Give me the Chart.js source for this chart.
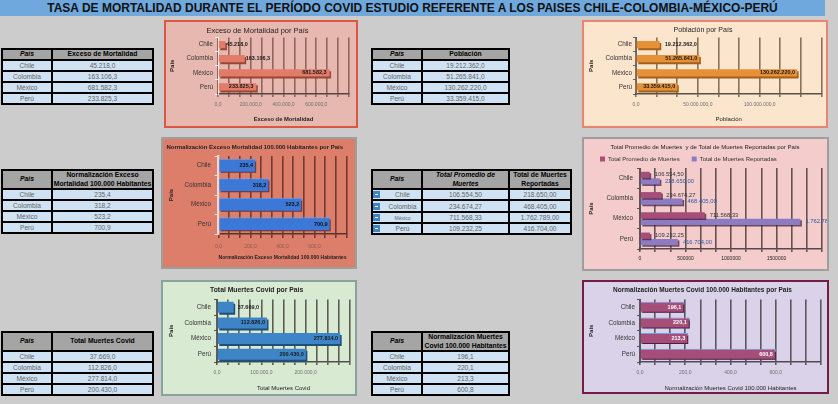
<!DOCTYPE html>
<html lang="es">
<head>
<meta charset="utf-8">
<title>Tasa de mortalidad periodo COVID</title>
<script src="https://cdn.jsdelivr.net/npm/chart.js@4.4.1/dist/chart.umd.min.js"></script>
<style>
  html, body { margin:0; padding:0; }
  body { width:838px; height:404px; background:#cccccc; position:relative; overflow:hidden; font-family:'Liberation Sans', Arial, sans-serif; }
  #banner { position:absolute; left:0; top:0; width:825px; height:16px; background:#6fa8dc; color:#111; font-size:12px; font-weight:bold; line-height:17px; text-align:center; white-space:nowrap; }
  .box { position:absolute; box-sizing:border-box; border:2px solid #999; }
  .box canvas { position:absolute; left:0; top:0; }
  .tbl { position:absolute; background:#000; }
  .cell { position:absolute; display:flex; align-items:center; justify-content:center; text-align:center; white-space:nowrap; overflow:hidden; box-sizing:border-box; }
  .hd { background:#a5a5a5; color:#000; font-weight:bold; font-size:6.8px; line-height:1.2; }
  .hd.it { font-style:italic; }
  .bd { background:#cfe2f3; color:#666; font-size:6.6px; }
  .bd.sm { font-size:5px; }
  .ico { position:absolute; width:7px; height:7px; background:#3d85c6; }
  .ico::after { content:''; position:absolute; left:2px; top:3px; width:3px; height:1px; background:#fff; }
</style>
</head>
<body>
<div id="banner">TASA DE MORTALIDAD DURANTE EL PERÍODO COVID ESTUDIO REFERENTE A LOS PAISES CHILE-COLOMBIA-MÉXICO-PERÚ</div>

<div class="box" style="left:164px;top:20px;width:194px;height:108px;background:#e6b8af;border-color:#dd5640"><canvas id="c1" width="190" height="104"></canvas></div>
<div class="box" style="left:582px;top:20px;width:246px;height:108px;background:#fce5cd;border-color:#e8846f"><canvas id="c2" width="242" height="104"></canvas></div>
<div class="box" style="left:161px;top:137px;width:196px;height:132px;background:#dd7e6b;border-color:#9e9e9e"><canvas id="c3" width="192" height="128"></canvas></div>
<div class="box" style="left:582px;top:137px;width:247px;height:134px;background:#f4cccc;border-color:#9e9e9e"><canvas id="c4" width="243" height="130"></canvas></div>
<div class="box" style="left:161px;top:280px;width:196px;height:116px;background:#d9ead3;border-color:#86a3a0"><canvas id="c5" width="192" height="112"></canvas></div>
<div class="box" style="left:582px;top:280px;width:247px;height:114px;background:#d9d2e9;border-color:#741b47"><canvas id="c6" width="243" height="110"></canvas></div>

<script>
// ---------------- DATA ----------------
const paises = ['Chile', 'Colombia', 'México', 'Perú'];
const excesoMortalidad = [45218.0, 163106.3, 681582.3, 233825.3];
const poblacion = [19212362.0, 51265841.0, 130262220.0, 33359415.0];
const normExceso = [235.4, 318.2, 523.2, 700.9];
const promedioMuertes = [106554.50, 234674.27, 711568.33, 109232.25];
const muertesReportadas = [218650.00, 468405.00, 1762789.00, 416704.00];
const totalMuertesCovid = [37669.0, 112826.0, 277814.0, 200430.0];
const normMuertesCovid = [196.1, 220.1, 213.3, 600.8];

// axis label ticks (last value = axis end, not labelled)
const ticksExceso = [0, 200000, 400000, 600000, 800000];
const ticksPoblacion = [0, 50000000, 100000000, 150000000];
const ticksNormExceso = [0, 200, 400, 600, 800];
const ticksMuertes = [0, 500000, 1000000, 1500000, 2000000];
const ticksCovid = [0, 100000, 200000, 300000];
const ticksNormCovid = [0, 200, 400, 600, 800];

// ---------------- HELPERS ----------------
const FONT = "'Liberation Sans', Arial, sans-serif";
Chart.defaults.font.family = FONT;

function fmtES(v, dec) {
  const s = Math.abs(v).toFixed(dec);
  let parts = s.split('.');
  let ip = parts[0].replace(/\B(?=(\d{3})+(?!\d))/g, '.');
  return (v < 0 ? '-' : '') + ip + (parts[1] ? ',' + parts[1] : '');
}

function gridValues(t, sub) {
  const out = [];
  for (let i = 0; i < t.length - 1; i++)
    for (let k = 0; k < sub; k++) out.push(t[i] + (t[i + 1] - t[i]) * k / sub);
  out.push(t[t.length - 1]);
  return out;
}

const barShadow = {
  id: 'barShadow',
  beforeDatasetsDraw(chart, args, o) {
    const c = chart.ctx; c.save();
    c.shadowColor = o.color || 'rgba(0,0,0,0.5)';
    c.shadowOffsetX = o.dx !== undefined ? o.dx : 1.5;
    c.shadowOffsetY = o.dy !== undefined ? o.dy : 2;
    c.shadowBlur = o.blur || 0;
  },
  afterDatasetsDraw(chart) { chart.ctx.restore(); }
};

const barLabels = {
  id: 'barLabels',
  afterDatasetsDraw(chart, args, o) {
    const c = chart.ctx;
    chart.data.datasets.forEach((ds, di) => {
      const s = o.sets[di]; if (!s) return;
      const meta = chart.getDatasetMeta(di);
      c.save();
      c.font = (s.weight || 'normal') + ' ' + s.size + 'px ' + FONT;
      c.fillStyle = s.color; c.textBaseline = 'middle';
      meta.data.forEach((bar, i) => {
        const txt = fmtES(ds.data[i], s.dec);
        if (s.inside[i]) { c.textAlign = 'right'; c.fillText(txt, bar.x - s.padIn, bar.y); }
        else { c.textAlign = 'left'; c.fillText(txt, bar.x + s.padOut, bar.y); }
      });
      c.restore();
    });
  }
};

function build(id, p) {
  const lh = s => s * 1.2;
  const padL = p.padL || 0;
  const grid = gridValues(p.ticks, p.sub);
  const shown = p.ticks.slice(0, -1);
  const xmax = p.ticks[p.ticks.length - 1];
  return new Chart(document.getElementById(id), {
    type: 'bar',
    data: { labels: paises, datasets: p.datasets },
    options: {
      indexAxis: 'y', responsive: false, animation: false, events: [],
      layout: { padding: { left: padL, right: p.W - p.R, top: 0, bottom: 0 } },
      plugins: {
        legend: p.legend || { display: false },
        tooltip: { enabled: false },
        title: {
          display: true, text: p.title, color: p.titleColor || '#222',
          font: { size: p.titleSize, weight: p.titleWeight || 'normal', lineHeight: 1.2 },
          padding: { top: p.titleY - lh(p.titleSize) / 2,
                     bottom: p.titlePadBottom !== undefined ? p.titlePadBottom : (p.T - p.titleY - lh(p.titleSize) / 2) }
        },
        barShadow: p.shadow,
        barLabels: { sets: p.labels }
      },
      scales: {
        x: {
          type: 'linear', min: 0, max: xmax,
          afterBuildTicks: ax => { ax.ticks = grid.map(v => ({ value: v })); },
          afterFit: ax => { ax.height = p.H - p.B; },
          ticks: {
            autoSkip: false, maxRotation: 0, minRotation: 0, padding: p.xTickPad,
            color: p.tickColor || '#707070', font: { size: 5 },
            callback: v => shown.some(t => Math.abs(t - v) < xmax * 1e-9) ? p.tickFmt(v) : ''
          },
          grid: { color: p.gridColor || 'rgba(35,25,25,0.68)', lineWidth: 1.6, tickLength: p.xTickLen, drawTicks: true },
          border: { display: true, color: 'rgba(35,30,30,0.75)', width: 1.5 },
          title: {
            display: !!p.xTitle, text: p.xTitle || '', color: '#222',
            font: { size: p.xTitleSize || 6, weight: p.xTitleWeight || 'normal', lineHeight: 1.2 },
            padding: { top: 0, bottom: p.xTitle ? p.H - p.xTitleY - lh(p.xTitleSize) / 2 : 0 }
          }
        },
        y: {
          afterFit: ax => { ax.width = p.L - padL; },
          ticks: { padding: p.catPad, color: p.catColor || '#333', font: { size: 6.3 } },
          grid: { drawOnChartArea: false, drawTicks: true, tickLength: p.catTickLen, color: p.yColor, lineWidth: 1, offset: true },
          border: { display: true, color: p.yColor, width: p.yWidth || 1 },
          title: {
            display: true, text: 'País', color: '#222',
            font: { size: 6, weight: 'bold', lineHeight: 1.2 },
            padding: { top: p.yTitleX - padL - 3.6, bottom: 0 }
          }
        }
      }
    },
    plugins: [barShadow, barLabels]
  });
}

const f1 = v => fmtES(v, 1);

// Chart 1: Exceso de Mortalidad
build('c1', {
  W: 190, H: 104, L: 52, R: 183, T: 15.5, B: 72,
  title: 'Exceso de Mortalidad por País', titleY: 9, titleSize: 7.5,
  xTitle: 'Exceso de Mortalidad', xTitleY: 97, xTitleSize: 5.8, xTitleWeight: 'bold',
  xTickLen: 3, xTickPad: 5, yTitleX: 6, catPad: 2, catTickLen: 3,
  ticks: ticksExceso, sub: 3, tickFmt: f1, gridColor: 'rgba(90,45,38,0.6)',
  yColor: 'rgba(255,255,255,0.85)',
  datasets: [{ data: excesoMortalidad, backgroundColor: '#e07c68', borderWidth: 0, barPercentage: 0.9, categoryPercentage: 0.58 }],
  shadow: { color: '#9b4536', dx: 1.5, dy: 2 },
  labels: [{ dec: 1, size: 5.5, weight: 'bold', color: '#1a1a1a', inside: [false, false, true, true], padIn: 3, padOut: 1 }]
});

// Chart 2: Población
build('c2', {
  W: 242, H: 104, L: 52, R: 238, T: 15.5, B: 72,
  title: 'Población por País', titleY: 8, titleSize: 7,
  xTitle: 'Población', xTitleY: 97, xTitleSize: 6,
  xTickLen: 3, xTickPad: 4.5, yTitleX: 7, catPad: 1, catTickLen: 3,
  ticks: ticksPoblacion, sub: 3, tickFmt: f1, gridColor: 'rgba(70,50,35,0.65)',
  yColor: '#666',
  datasets: [{ data: poblacion, backgroundColor: '#e69138', borderWidth: 0, barPercentage: 0.9, categoryPercentage: 0.58 }],
  shadow: { color: '#a35f1c', dx: 1.5, dy: 2 },
  labels: [{ dec: 1, size: 5.5, weight: 'bold', color: '#1a1a1a', inside: [false, true, true, true], padIn: 2, padOut: 5 }]
});

// Chart 3: Normalización Exceso Mortalidad
build('c3', {
  W: 192, H: 128, L: 55.5, R: 183.5, T: 17, B: 95,
  title: 'Normalización Exceso Mortalidad 100.000 Habitantes por País', titleY: 8, titleSize: 6, titleWeight: 'bold',
  xTitle: 'Normalización Exceso Mortalidad 100.000 Habitantes', xTitleY: 119, xTitleSize: 5.2, xTitleWeight: 'bold',
  xTickLen: 4, xTickPad: 6, yTitleX: 8, catPad: 3.5, catTickLen: 4,
  ticks: ticksNormExceso, sub: 3, tickFmt: f1, tickColor: '#8a5a50', gridColor: 'rgba(70,30,22,0.7)',
  yColor: '#f0d8d2', yWidth: 2.5,
  datasets: [{ data: normExceso, backgroundColor: '#3c78d8', borderColor: '#6d9eeb', borderWidth: 1, barPercentage: 0.9, categoryPercentage: 0.8 }],
  shadow: { color: '#7a2e22', dx: 1.5, dy: 2 },
  labels: [{ dec: 1, size: 5.5, weight: 'bold', color: '#111', inside: [true, true, true, true], padIn: 3, padOut: 3 }]
});

// Chart 4: Total Promedio de Muertes y Total de Muertes Reportadas
build('c4', {
  W: 243, H: 130, padL: 4, L: 56, R: 238, T: 29, B: 110,
  title: 'Total Promedio de Muertes  y de Total de Muertes Reportadas por País', titleY: 8, titleSize: 6, titlePadBottom: -6.6,
  legend: { display: true, position: 'top', align: 'start', maxHeight: 24,
            labels: { boxWidth: 5, boxHeight: 5, padding: 12, color: '#333', font: { size: 6 } } },
  xTickLen: 3, xTickPad: 4, yTitleX: 7, catPad: 4, catTickLen: 3,
  ticks: ticksMuertes, sub: 3, tickFmt: v => String(Math.round(v)), tickColor: '#222',
  yColor: '#555',
  datasets: [
    { label: 'Total Promedio de Muertes', data: promedioMuertes, backgroundColor: '#a64d79', borderWidth: 0, barPercentage: 0.95, categoryPercentage: 0.64 },
    { label: 'Total de Muertes Reportadas', data: muertesReportadas, backgroundColor: '#8e7cc3', borderWidth: 0, barPercentage: 0.95, categoryPercentage: 0.64 }
  ],
  shadow: { color: 'rgba(70,30,60,0.75)', dx: 1.5, dy: 1.5 },
  labels: [
    { dec: 2, size: 5.8, color: '#333', inside: [false, false, false, false], padOut: 5, padIn: 2 },
    { dec: 2, size: 5.8, color: '#2a5aa8', inside: [false, false, false, false], padOut: 5, padIn: 2 }
  ]
});

// Chart 5: Total Muertes Covid
build('c5', {
  W: 192, H: 112, L: 54, R: 187.3, T: 17.5, B: 80,
  title: 'Total Muertes Covid por País', titleY: 8, titleSize: 6.8, titleWeight: 'bold',
  xTitle: 'Total Muertes Covid', xTitleY: 106, xTitleSize: 6,
  xTickLen: 3, xTickPad: 5, yTitleX: 8, catPad: 3, catTickLen: 3,
  ticks: ticksCovid, sub: 4, tickFmt: f1,
  yColor: '#555',
  datasets: [{ data: totalMuertesCovid, backgroundColor: '#3d85c6', borderWidth: 0, barPercentage: 0.9, categoryPercentage: 0.78 }],
  shadow: { color: '#1f4e79', dx: 1.5, dy: 2 },
  labels: [{ dec: 1, size: 5.5, weight: 'bold', color: '#1a1a1a', inside: [false, true, true, true], padIn: 2, padOut: 4 }]
});

// Chart 6: Normalización Muertes Covid
build('c6', {
  W: 243, H: 110, L: 56, R: 237, T: 17.5, B: 80,
  title: 'Normalización Muertes Covid 100.000 Habitantes por País', titleY: 8, titleSize: 6.5, titleWeight: 'bold',
  xTitle: 'Normalización Muertes Covid 100.000 Habitantes', xTitleY: 106, xTitleSize: 6,
  xTickLen: 3, xTickPad: 5, yTitleX: 7, catPad: 2, catTickLen: 3,
  ticks: ticksNormCovid, sub: 3, tickFmt: f1,
  yColor: '#555',
  datasets: [{ data: normMuertesCovid, backgroundColor: '#a64d79', borderColor: '#6d9eeb', borderWidth: 1, barPercentage: 0.9, categoryPercentage: 0.78 }],
  shadow: { color: '#4c2040', dx: 1.5, dy: 2 },
  labels: [{ dec: 1, size: 5.5, weight: 'bold', color: '#ffffff', inside: [true, true, true, true], padIn: 3, padOut: 3 }]
});

// ---------------- TABLES ----------------
function makeTable(spec) {
  const xs = spec.xs, ys = spec.ys, b = 1.5;
  const t = document.createElement('div');
  t.className = 'tbl';
  t.style.left = (xs[0] - b / 2) + 'px';
  t.style.top = (ys[0] - b / 2) + 'px';
  t.style.width = (xs[xs.length - 1] - xs[0] + b) + 'px';
  t.style.height = (ys[ys.length - 1] - ys[0] + b) + 'px';
  document.body.appendChild(t);
  const all = [spec.head].concat(spec.rows);
  all.forEach((row, r) => row.forEach((cs, c) => {
    const d = document.createElement('div');
    const obj = typeof cs === 'string' ? { t: cs } : cs;
    d.className = 'cell ' + (r === 0 ? 'hd' : 'bd') + (obj.it ? ' it' : '') + (obj.sm ? ' sm' : '');
    d.style.left = (xs[c] - xs[0] + b) + 'px';
    d.style.top = (ys[r] - ys[0] + b) + 'px';
    d.style.width = (xs[c + 1] - xs[c] - b) + 'px';
    d.style.height = (ys[r + 1] - ys[r] - b) + 'px';
    if (r > 0 && c === 0 && spec.icons) d.style.paddingLeft = '11px';
    d.innerHTML = obj.t;
    t.appendChild(d);
  }));
  if (spec.icons) {
    for (let r = 1; r < ys.length - 1; r++) {
      const ic = document.createElement('div');
      ic.className = 'ico';
      ic.style.left = (xs[0] + 1) + 'px';
      ic.style.top = ((ys[r] + ys[r + 1]) / 2 - 3.5) + 'px';
      document.body.appendChild(ic);
    }
  }
}

const pais = { t: 'País', it: true };
makeTable({ xs: [2, 52, 153], ys: [49, 60, 71, 82, 93, 104],
  head: [pais, 'Exceso de Mortalidad'],
  rows: paises.map((p, i) => [p, fmtES(excesoMortalidad[i], 1)]) });
makeTable({ xs: [372, 422, 509], ys: [49, 60, 71, 82, 93, 104],
  head: [pais, 'Población'],
  rows: paises.map((p, i) => [p, fmtES(poblacion[i], 1)]) });
makeTable({ xs: [2, 52, 153], ys: [170, 189, 200, 211, 222, 233],
  head: [pais, 'Normalización Exceso<br>Mortalidad 100.000 Habitantes'],
  rows: paises.map((p, i) => [p, fmtES(normExceso[i], 1)]) });
makeTable({ xs: [372, 422, 509, 571], ys: [170, 189, 200, 212, 223, 234], icons: true,
  head: [pais, { t: 'Total Promedio de<br>Muertes', it: true }, 'Total de Muertes<br>Reportadas'],
  rows: paises.map((p, i) => [{ t: p, sm: p === 'México' }, fmtES(promedioMuertes[i], 2), fmtES(muertesReportadas[i], 2)]) });
makeTable({ xs: [2, 52, 153], ys: [332, 351, 362, 373, 384, 395],
  head: [pais, 'Total Muertes Covid'],
  rows: paises.map((p, i) => [p, fmtES(totalMuertesCovid[i], 1)]) });
makeTable({ xs: [372, 422, 509], ys: [332, 351, 362, 373, 384, 395],
  head: [pais, 'Normalización Muertes<br>Covid 100.000 Habitantes'],
  rows: paises.map((p, i) => [p, fmtES(normMuertesCovid[i], 1)]) });
</script>
</body>
</html>
